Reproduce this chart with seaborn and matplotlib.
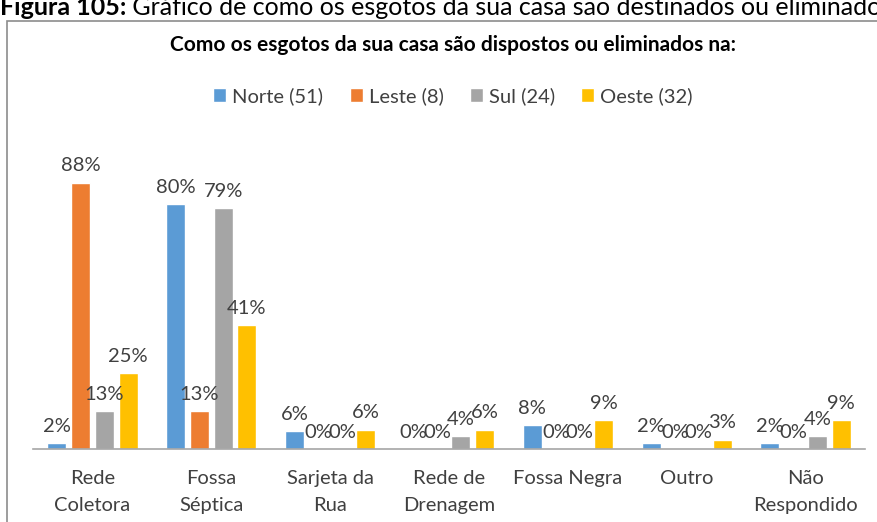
import numpy as np
import pandas as pd
import matplotlib
matplotlib.use("Agg")
import matplotlib.pyplot as plt
import seaborn as sns
from matplotlib.patches import Rectangle

# dados (% por regiao)
categorias = ["Rede\nColetora", "Fossa\nSéptica", "Sarjeta da\nRua", "Rede de\nDrenagem",
              "Fossa Negra", "Outro", "Não\nRespondido"]
regioes = ["Norte (51)", "Leste (8)", "Sul (24)", "Oeste (32)"]
norte = [2.0, 80.4, 5.9, 0.0, 7.8, 2.0, 2.0]
leste = [87.5, 12.5, 0.0, 0.0, 0.0, 0.0, 0.0]
sul = [12.5, 79.2, 0.0, 4.2, 0.0, 0.0, 4.2]
oeste = [25.0, 40.6, 6.3, 6.3, 9.4, 3.1, 9.4]
cores = ["#5B9BD5", "#ED7D31", "#A5A5A5", "#FFC000"]

titulo = "Como os esgotos da sua casa são dispostos ou eliminados na:"
legenda_fig = "Figura 105:"
texto_fig = " Gráfico de como os esgotos da sua casa são destinados ou eliminados"

df = pd.DataFrame({
    "categoria": categorias * 4,
    "regiao": np.repeat(regioes, len(categorias)),
    "valor": norte + leste + sul + oeste,
})

sns.set_style("white")
plt.rcParams["font.family"] = ["Lato", "DejaVu Sans"]
TXT = "#404040"
FS = 14.5

fig = plt.figure(figsize=(8.78, 5.22), dpi=100)

# moldura do grafico
fig.patches.append(Rectangle((7 / 878, -0.05), 1.2, 1 - 21 / 522 + 0.05,
                             transform=fig.transFigure, fill=False,
                             edgecolor="#8C8C8C", linewidth=1.2))

# legenda da figura (cortada no topo)
r = fig.canvas.get_renderer()
t1 = fig.text(0.0, 1 - 15 / 522, legenda_fig, fontsize=18, fontweight="bold",
              color="black", va="baseline", ha="left")
bb = t1.get_window_extent(renderer=r)
fig.text(bb.x1 / fig.bbox.width, 1 - 15 / 522, texto_fig, fontsize=18,
         color="black", va="baseline", ha="left")

ax = fig.add_axes([33 / 878, 1 - 449 / 522, (865 - 33) / 878, (449 - 144.5) / 522])
sns.barplot(data=df, x="categoria", y="valor", hue="regiao", palette=cores,
            width=0.8, gap=0.2, ax=ax, saturation=1)

ax.set_ylim(0, 100)
ax.set_xlim(-0.5, len(categorias) - 0.5)
ax.set_xlabel("")
ax.set_ylabel("")
ax.set_yticks([])
for s in ["top", "left", "right"]:
    ax.spines[s].set_visible(False)
ax.spines["bottom"].set_color("#A6A6A6")
ax.spines["bottom"].set_linewidth(1.2)
ax.tick_params(axis="x", length=0, pad=15, labelsize=FS, labelcolor=TXT)
for lb in ax.get_xticklabels():
    lb.set_linespacing(1.75)

for cont, vals in zip(ax.containers, [norte, leste, sul, oeste]):
    ax.bar_label(cont, labels=[f"{int(np.floor(v + 0.5))}%" for v in vals],
                 padding=6, fontsize=FS, color=TXT)

handles, labels = ax.get_legend_handles_labels()
ax.get_legend().remove()
fig.legend(handles, labels, loc="center", bbox_to_anchor=(453 / 878, 1 - 96 / 522),
           ncol=4, frameon=False, fontsize=FS, labelcolor=TXT,
           handlelength=0.65, handleheight=0.65, handletextpad=0.3, columnspacing=1.3)

fig.text(453 / 878, 1 - 45 / 522, titulo, fontsize=15, fontweight="bold",
         color="black", ha="center", va="center")

fig.savefig("out.png", dpi=100)
